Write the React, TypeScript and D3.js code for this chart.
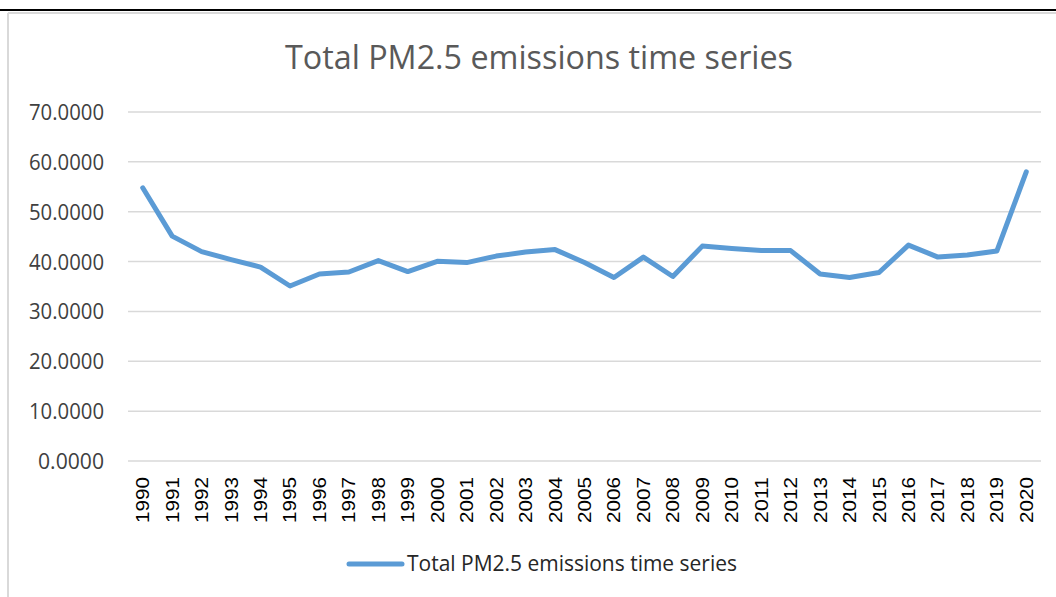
import * as d3 from 'd3';

const years = d3.range(1990, 2021).map(String);
const emissions = [
  54.8, 45.1, 42.0, 40.4, 38.9, 35.1, 37.5, 37.9, 40.2, 38.0,
  40.05, 39.8, 41.1, 41.9, 42.4, 39.8, 36.8, 40.9, 37.0, 43.1,
  42.6, 42.2, 42.2, 37.5, 36.8, 37.8, 43.3, 40.9, 41.3, 42.1, 58.0,
];
const yTicks = [0, 10, 20, 30, 40, 50, 60, 70];
const title = 'Total PM2.5 emissions time series';
const seriesName = 'Total PM2.5 emissions time series';

export default function App() {
  const width = 1056, height = 597;
  const plot = { left: 128, right: 1041, top: 112, bottom: 461 };

  const x = d3.scaleBand().domain(years).range([plot.left, plot.right]);
  const y = d3.scaleLinear().domain([0, 70]).range([plot.bottom, plot.top]);
  const cx = (d: string) => (x(d) ?? 0) + x.bandwidth() / 2;

  const line = d3.line<number>()
    .x((_, i) => cx(years[i]))
    .y(d => y(d));

  return (
    <svg width={width} height={height}
      style={{ position: 'absolute', left: 0, top: 0, background: '#fff' }}>
      {/* sheet edge + chart frame */}
      <line x1={0} x2={width} y1={10} y2={10} stroke="#000" strokeWidth={2} />
      <line x1={8} x2={width} y1={13} y2={13} stroke="#d9d9d9" strokeWidth={2} />
      <line x1={8} x2={8} y1={13} y2={height} stroke="#d9d9d9" strokeWidth={2} />

      <text x={539} y={69} textAnchor="middle" fill="#595959"
        fontFamily="'Open Sans', sans-serif" fontSize={33}
        textLength={508} lengthAdjust="spacingAndGlyphs">{title}</text>

      {yTicks.map(t => (
        <g key={t}>
          <line x1={plot.left} x2={plot.right} y1={y(t)} y2={y(t)}
            stroke="#d9d9d9" strokeWidth={1.5} />
          <text x={104} y={y(t) + 8} textAnchor="end" fill="#404040"
            fontFamily="'Open Sans', sans-serif" fontSize={22}
            textLength={t === 0 ? 66 : 75} lengthAdjust="spacingAndGlyphs">
            {d3.format('.4f')(t)}
          </text>
        </g>
      ))}

      {years.map(yr => (
        <text key={yr} transform={`translate(${cx(yr) + 6.5},477) rotate(-90)`}
          textAnchor="end" fill="#000"
          fontFamily="'Liberation Sans', Arial, sans-serif" fontSize={18.5}
          textLength={46} lengthAdjust="spacingAndGlyphs">{yr}</text>
      ))}

      <path d={line(emissions) ?? ''} fill="none" stroke="#5b9bd5"
        strokeWidth={5} strokeLinejoin="round" strokeLinecap="round" />

      <line x1={349} x2={402} y1={564} y2={564} stroke="#5b9bd5"
        strokeWidth={5} strokeLinecap="round" />
      <text x={407} y={570.5} fill="#262626"
        fontFamily="'Open Sans', sans-serif" fontSize={21}
        textLength={330} lengthAdjust="spacingAndGlyphs">{seriesName}</text>
    </svg>
  );
}
